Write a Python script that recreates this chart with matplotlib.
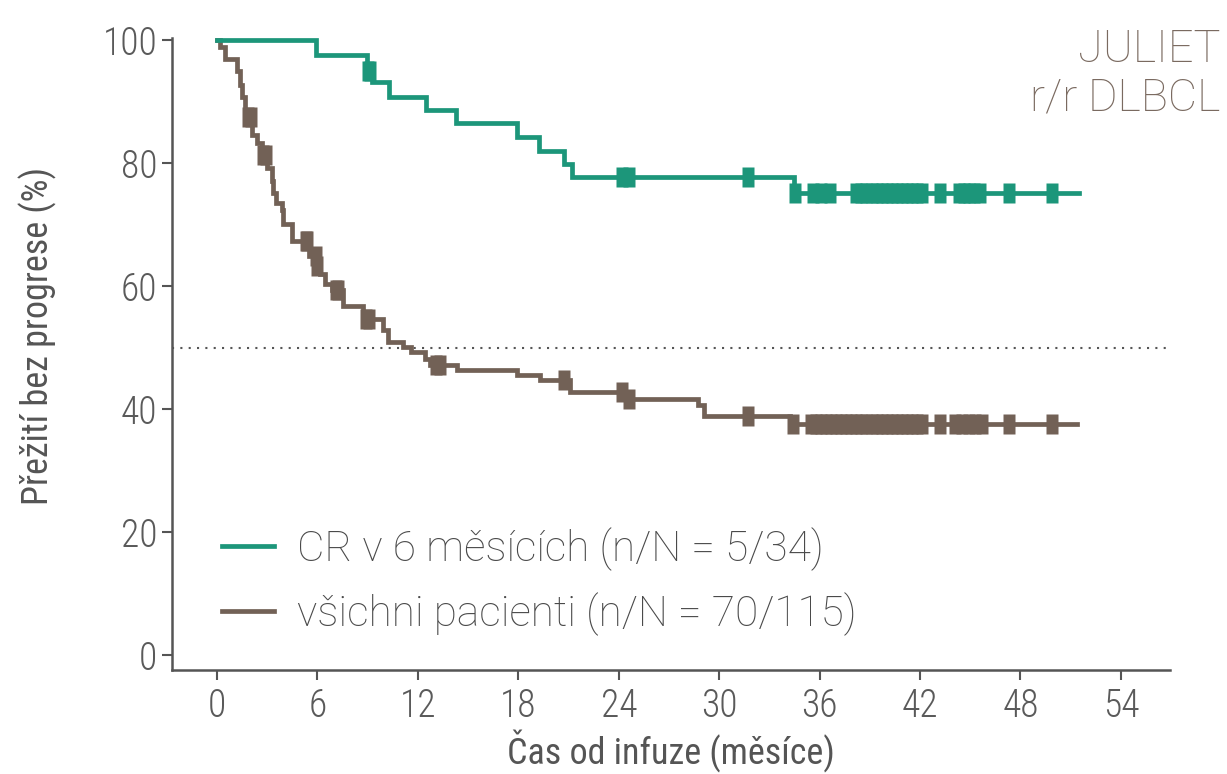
import numpy as np
import matplotlib
matplotlib.use('Agg')
import matplotlib.pyplot as plt
from matplotlib import font_manager
from matplotlib.path import Path
from matplotlib.lines import Line2D

# values
months_ticks = [0, 6, 12, 18, 24, 30, 36, 42, 48, 54]
pct_ticks = [0, 20, 40, 60, 80, 100]

# CR at 6 months
cr_t = [0, 5.9, 8.94, 9.27, 10.28, 12.48, 14.28, 17.9, 19.26, 20.75, 21.19, 34.45]
cr_s = [100, 97.5, 95.0, 93.1, 90.8, 88.7, 86.5, 84.3, 82.0, 79.8, 77.7, 75.2]
cr_end = 51.5
cr_censor = [9.0, 9.15, 24.2, 24.6, 31.75, 34.5, 35.6, 36.1, 36.6,
             38.2, 38.5, 38.8, 39.1, 39.4, 39.7, 40.0, 40.3, 40.6, 40.9,
             41.2, 41.5, 41.8, 42.1, 43.2, 44.3, 44.6, 44.9, 45.2, 45.6,
             47.3, 49.9]

# all patients
all_t = [0, 0.2, 0.5, 1.18, 1.37, 1.51, 1.67, 2.07, 2.37, 2.7, 2.97, 3.27,
         3.36, 3.5, 3.86, 3.96, 4.5, 5.5, 5.96, 6.15, 6.45, 6.85, 7.55,
         8.74, 9.9, 10.2, 11.1, 11.6, 12.4, 12.7, 14.35, 17.9, 19.3, 21.1,
         24.5, 28.75, 29.1, 34.25]
all_s = [100, 98.9, 96.9, 94.9, 92.7, 90.8, 87.5, 84.6, 83.2, 81.3, 79.2, 77.0,
         75.1, 73.5, 72.4, 70.1, 67.4, 64.8, 63.2, 62.0, 60.4, 59.3, 56.7,
         54.7, 52.8, 50.9, 50.1, 49.3, 48.2, 47.2, 46.3, 45.5, 44.7, 42.8,
         41.7, 40.65, 38.8, 37.6]
all_end = 51.4
all_censor = [1.85, 2.0, 2.75, 2.9, 5.3, 5.4, 5.9, 6.0, 7.1, 7.25, 8.9, 9.05,
              13.1, 13.3, 20.75, 24.2, 24.6, 31.7, 34.4,
              35.5, 35.8, 36.1, 36.4, 36.7, 37.0, 37.3, 37.6, 37.9, 38.2,
              38.5, 38.8, 39.1, 39.4, 39.7, 40.0, 40.3, 40.6, 40.9, 41.2,
              41.5, 41.8, 42.1, 43.2, 44.1, 44.5, 44.9, 45.3, 45.7, 47.3, 49.9]

series_labels = ['CR v 6 měsících (n/N = 5/34)', 'všichni pacienti (n/N = 70/115)']
green = '#1c967a'
brown = '#726156'
grey = '#555555'

names = {f.name for f in font_manager.fontManager.ttflist}
fam = 'DejaVu Sans'
for cand in ['Roboto Condensed', 'Liberation Sans Narrow', 'DejaVu Sans']:
    if cand in names:
        fam = cand
        break
plt.rcParams['font.family'] = [fam, 'DejaVu Sans']
if fam == 'DejaVu Sans':
    plt.rcParams['font.stretch'] = 'condensed'
wide_fam = ['Roboto', 'DejaVu Sans']


def surv_at(t_ev, s_ev, t):
    idx = np.searchsorted(t_ev, t, side='right') - 1
    return np.asarray(s_ev)[idx]


censor_mark = Path([(-0.29, -0.5), (0.29, -0.5), (0.29, 0.5), (-0.29, 0.5), (-0.29, -0.5)],
                   [Path.MOVETO, Path.LINETO, Path.LINETO, Path.LINETO, Path.CLOSEPOLY])

fig = plt.figure(figsize=(12.27, 7.74), dpi=100)
ax = fig.add_axes([0.1402, 0.1344, 0.8133, 0.8165])

ax.axhline(50, color=grey, lw=1.5, ls=(0, (1, 3)), zorder=1)

lw = 3.4
for t_ev, s_ev, t_end, cens, col in [(all_t, all_s, all_end, all_censor, brown),
                                     (cr_t, cr_s, cr_end, cr_censor, green)]:
    ax.step(t_ev + [t_end], s_ev + [s_ev[-1]], where='post', color=col, lw=lw,
            solid_joinstyle='miter', zorder=3)
    ax.plot(cens, surv_at(t_ev, s_ev, cens), ls='none', marker=censor_mark,
            ms=13.7, color=col, mec='none', zorder=4)

ax.set_xlim(-2.69, 56.93)
ax.set_ylim(-2.44, 100.33)
ax.set_xticks(months_ticks)
ax.set_yticks(pct_ticks)
for sp in ['top', 'right']:
    ax.spines[sp].set_visible(False)
for sp in ['left', 'bottom']:
    ax.spines[sp].set_color(grey)
    ax.spines[sp].set_linewidth(1.8)
ax.tick_params(direction='out', length=7.5, width=1.5, color=grey,
               labelcolor='#5a5a5a', labelsize=27, pad=3)
ax.tick_params(axis='x', pad=5)
for lab in ax.get_xticklabels() + ax.get_yticklabels():
    lab.set_fontweight('light')

ax.set_xlabel('Čas od infuze (měsíce)', fontsize=26, color=grey, labelpad=4)
ax.set_ylabel('Přežití bez progrese (%)', fontsize=26, color=grey)
ax.yaxis.set_label_coords(-0.115, 0.528)

handles = [Line2D([], [], color=green, lw=lw), Line2D([], [], color=brown, lw=lw)]
leg = ax.legend(handles, series_labels, loc='center left', bbox_to_anchor=(0.05, 0.14),
                frameon=False, prop={'family': wide_fam, 'size': 30.5, 'weight': 'light'},
                handlelength=1.24, handletextpad=0.53,
                labelspacing=0.5, borderpad=0, borderaxespad=0)
for txt in leg.get_texts():
    txt.set_color('#4a4a4a')

fig.text(0.995, 0.904, 'JULIET\nr/r DLBCL', ha='right', va='center', fontsize=32.5,
         color='#7a6a60', fontweight='light', family=wide_fam, linespacing=1.18)

fig.savefig('out.png', dpi=100)
